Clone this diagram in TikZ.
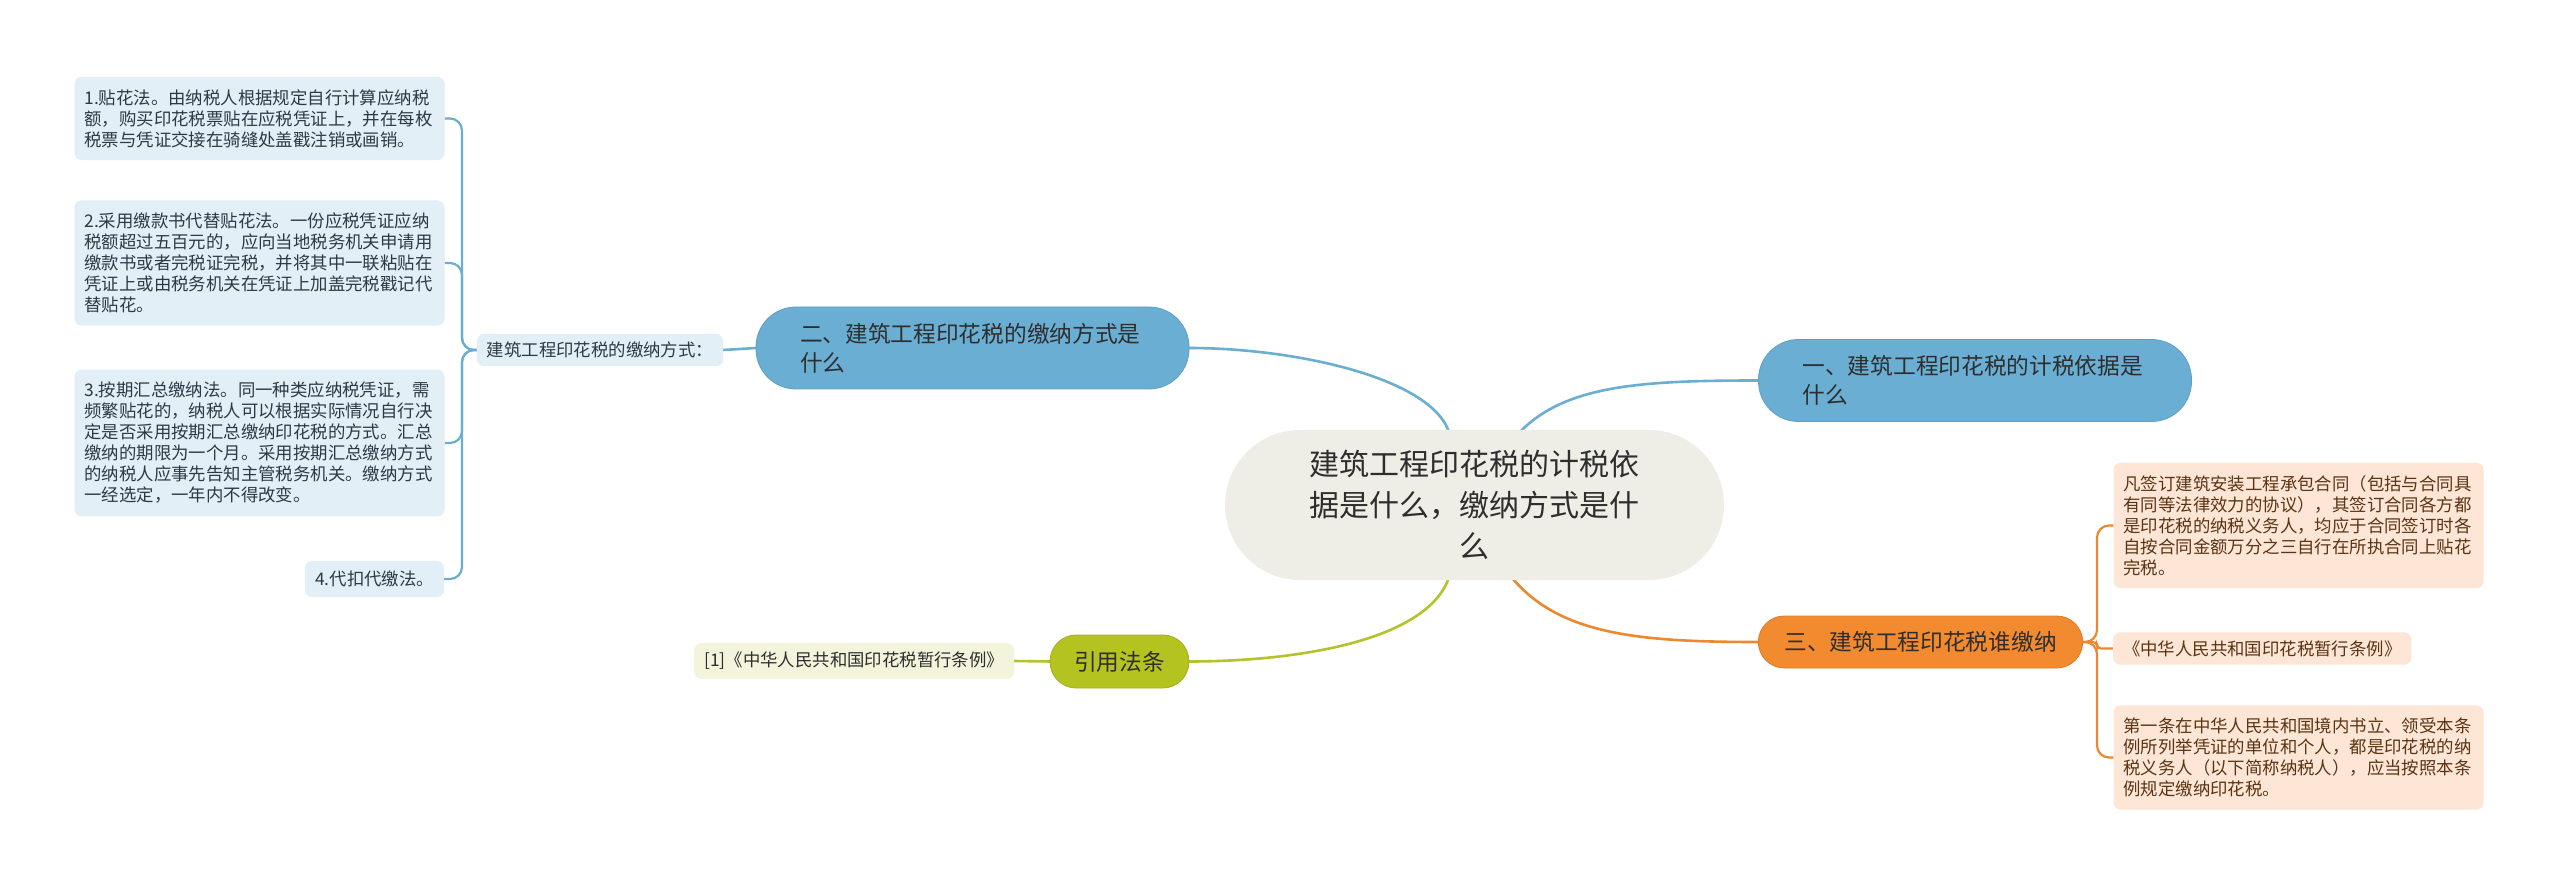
\documentclass[tikz,border=0pt]{standalone}
\usepackage{fontspec}
\setmainfont{Noto Sans CJK SC}
\usetikzlibrary{calc}
\definecolor{cBlue}{HTML}{6AAFD3}
\definecolor{cBlueDark}{HTML}{5E9FC2}
\definecolor{cBlueLine}{HTML}{6AAED2}
\definecolor{cBlueLeaf}{HTML}{E2EFF6}
\definecolor{cRoot}{HTML}{EFEEE6}
\definecolor{cOrange}{HTML}{F28B30}
\definecolor{cOrangeLine}{HTML}{EC8830}
\definecolor{cOrangeLeaf}{HTML}{FDE6D6}
\definecolor{cOrangeText}{HTML}{5A3413}
\definecolor{cGreen}{HTML}{B5C321}
\definecolor{cGreenLine}{HTML}{B5C32A}
\definecolor{cGreenLeaf}{HTML}{F3F4DB}
\definecolor{cText}{HTML}{2E2E2E}
\definecolor{cLeafText}{HTML}{2B3A44}
\pgfdeclarelayer{bg}
\pgfsetlayers{bg,main}
\begin{document}
\begin{tikzpicture}[x=1pt,y=-1pt,
  every node/.style={inner sep=0pt, outer sep=0pt},
  rootnode/.style={fill=cRoot, rounded corners=75pt, minimum width=499pt, minimum height=150pt, align=center, text=cText, font=\fontsize{30}{41}\selectfont},
  bluemain/.style={fill=cBlue, draw=cBlueDark, line width=0.8pt, rounded corners=40pt, minimum height=82pt, text width=345pt, inner xsep=44pt, align=left, text=cText, font=\fontsize{22.7}{29}\selectfont},
  orangemain/.style={fill=cOrange, draw=cOrange!90!black, line width=0.8pt, rounded corners=26pt, minimum height=52pt, inner xsep=26pt, text=cText, font=\fontsize{22.7}{29}\selectfont},
  greenmain/.style={fill=cGreen, draw=cGreen!90!black, line width=0.8pt, rounded corners=26pt, minimum height=53pt, inner xsep=24pt, text=cText, font=\fontsize{22.7}{29}\selectfont},
  leafblue/.style={fill=cBlueLeaf, rounded corners=7pt, text=cLeafText, font=\fontsize{17.4}{21}\selectfont, inner xsep=10pt, inner ysep=12.5pt},
  leafblock/.style={text width=350pt, align=left},
  leaforange/.style={fill=cOrangeLeaf, rounded corners=7pt, text=cOrangeText, font=\fontsize{17.4}{21}\selectfont, inner xsep=10pt, inner ysep=12.5pt},
  leafgreen/.style={fill=cGreenLeaf, rounded corners=7pt, text=cText, font=\fontsize{17.4}{21}\selectfont, inner xsep=10pt, inner ysep=9pt},
  bline/.style={draw=cBlueLine, line width=2.6pt},
  oline/.style={draw=cOrangeLine, line width=2.6pt},
  gline/.style={draw=cGreenLine, line width=2.6pt},
]
\useasboundingbox (0,0) rectangle (2560,890);

% root
\node[rootnode] (c) at (1474.5,505) {建筑工程印花税的计税依\\据是什么，缴纳方式是什\\么};

% level 1
\node[bluemain] (two) at (972.5,348) {二、建筑工程印花税的缴纳方式是\\什么};
\node[bluemain] (one) at (1975,380.5) {一、建筑工程印花税的计税依据是\\什么};
\node[orangemain] (three) at (1920.5,642) {三、建筑工程印花税谁缴纳};
\node[greenmain] (cite) at (1119.5,661.5) {引用法条};

% left branch
\node[leafblue, inner ysep=8pt] (lab) at (600,350) {建筑工程印花税的缴纳方式：};
\node[leafblue, leafblock] (L1) at (259.5,118.5) {1.贴花法。由纳税人根据规定自行计算应纳税\\额，购买印花税票贴在应税凭证上，并在每枚\\税票与凭证交接在骑缝处盖戳注销或画销。};
\node[leafblue, leafblock] (L2) at (259.5,263) {2.采用缴款书代替贴花法。一份应税凭证应纳\\税额超过五百元的，应向当地税务机关申请用\\缴款书或者完税证完税，并将其中一联粘贴在\\凭证上或由税务机关在凭证上加盖完税戳记代\\替贴花。};
\node[leafblue, leafblock] (L3) at (259.5,443) {3.按期汇总缴纳法。同一种类应纳税凭证，需\\频繁贴花的，纳税人可以根据实际情况自行决\\定是否采用按期汇总缴纳印花税的方式。汇总\\缴纳的期限为一个月。采用按期汇总缴纳方式\\的纳税人应事先告知主管税务机关。缴纳方式\\一经选定，一年内不得改变。};
\node[leafblue, inner ysep=10pt, anchor=east] (L4) at (444,579) {4.代扣代缴法。};

% right branch
\node[leaforange, leafblock] (A) at (2298.5,525.5) {凡签订建筑安装工程承包合同（包括与合同具\\有同等法律效力的协议），其签订合同各方都\\是印花税的纳税义务人，均应于合同签订时各\\自按合同金额万分之三自行在所执合同上贴花\\完税。};
\node[leaforange, inner ysep=8pt, anchor=west] (B) at (2113,648.5) {《中华人民共和国印花税暂行条例》};
\node[leaforange, leafblock] (C) at (2298.5,757.5) {第一条在中华人民共和国境内书立、领受本条\\例所列举凭证的单位和个人，都是印花税的纳\\税义务人（以下简称纳税人），应当按照本条\\例规定缴纳印花税。};

% citation leaf
\node[leafgreen, anchor=east] (ref) at (1014,661) {[1]《中华人民共和国印花税暂行条例》};

\coordinate (jL) at (462,350);
\coordinate (jR) at (2097,642);

\begin{pgfonlayer}{bg}
\fill[white] (0,0) rectangle (2560,890);
% root connectors
\draw[bline] ($(c.north)+(-24,8)$) .. controls ($(c.north)+(-34,-50)$) and ($(two.east)+(110,0)$) .. (two.east);
\draw[bline] ($(c.north)+(40,8)$) .. controls ($(c.north)+(85,-45)$) and ($(one.west)+(-120,0)$) .. (one.west);
\draw[oline] ($(c.south)+(33,-8)$) .. controls ($(c.south)+(80,55)$) and ($(three.west)+(-120,0)$) .. (three.west);
\draw[gline] ($(c.south)+(-24,-8)$) .. controls ($(c.south)+(-40,60)$) and ($(cite.east)+(110,0)$) .. (cite.east);
% level1 to labels
\draw[bline] (two.west) -- (lab.east);
\draw[gline] (cite.west) -- (ref.east);
% left bracket
\draw[bline, line width=2.2pt, rounded corners=12pt] (lab.west) -- (jL) -- (jL |- L1.east) -- (L1.east);
\draw[bline, line width=2.2pt, rounded corners=12pt] (lab.west) -- (jL) -- (jL |- L2.east) -- (L2.east);
\draw[bline, line width=2.2pt, rounded corners=12pt] (lab.west) -- (jL) -- (jL |- L3.east) -- (L3.east);
\draw[bline, line width=2.2pt, rounded corners=12pt] (lab.west) -- (jL) -- (jL |- L4.east) -- (L4.east);
% right bracket
\draw[oline, line width=2.2pt, rounded corners=12pt] (three.east) -- (jR) -- (jR |- A.west) -- (A.west);
\draw[oline, line width=2.2pt, rounded corners=4pt] (three.east) -- (jR) -- (jR |- B.west) -- (B.west);
\draw[oline, line width=2.2pt, rounded corners=12pt] (three.east) -- (jR) -- (jR |- C.west) -- (C.west);
\end{pgfonlayer}
\end{tikzpicture}
\end{document}
